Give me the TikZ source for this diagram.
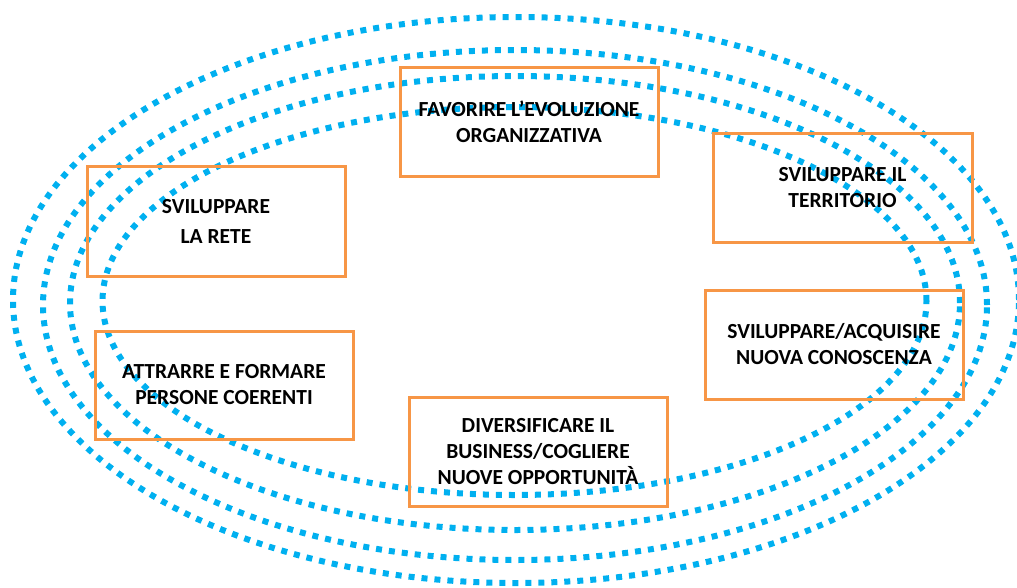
\documentclass[tikz,border=0pt]{standalone}
\usepackage{fontspec}
\setmainfont{Carlito}
\definecolor{ringblue}{HTML}{00B0F0}
\definecolor{boxorange}{HTML}{F79646}
\begin{document}
\begin{tikzpicture}[x=1pt,y=-1pt,
  ring/.style={draw=ringblue,line width=6pt,dash pattern=on 6pt off 7pt},
  goal/.style={draw=boxorange,line width=3pt,align=center,inner sep=0pt,
    font=\fontsize{21.5}{26}\selectfont\bfseries},
]
\useasboundingbox (0,0) rectangle (1017,587);

% concentric dotted rings
\draw[ring] (516,300) ellipse [x radius=503pt, y radius=283pt];
\draw[ring] (515,305) ellipse [x radius=472pt, y radius=255pt];
\draw[ring] (515,303) ellipse [x radius=445pt, y radius=227pt];
\draw[ring] (514.5,301) ellipse [x radius=412pt, y radius=194pt];

% goal boxes
\node[goal,minimum width=258pt,minimum height=109pt] (evol) at (529,121.5)
  {FAVORIRE L’EVOLUZIONE\\ORGANIZZATIVA};
\node[goal,minimum width=259pt,minimum height=109pt] (terr) at (842.5,187.5)
  {SVILUPPARE IL\\TERRITORIO};
\node[goal,minimum width=258pt,minimum height=110pt] (rete) at (216,221)
  {SVILUPPARE\\[4pt]LA RETE};
\node[goal,minimum width=258pt,minimum height=108pt] (pers) at (224,385)
  {ATTRARRE E FORMARE\\PERSONE COERENTI};
\node[goal,minimum width=258pt,minimum height=109pt] (biz) at (538,451.5)
  {DIVERSIFICARE IL\\BUSINESS/COGLIERE\\NUOVE OPPORTUNITÀ};
\node[goal,minimum width=258pt,minimum height=109pt] (cono) at (834,344.5)
  {SVILUPPARE/ACQUISIRE\\NUOVA CONOSCENZA};
\end{tikzpicture}
\end{document}
